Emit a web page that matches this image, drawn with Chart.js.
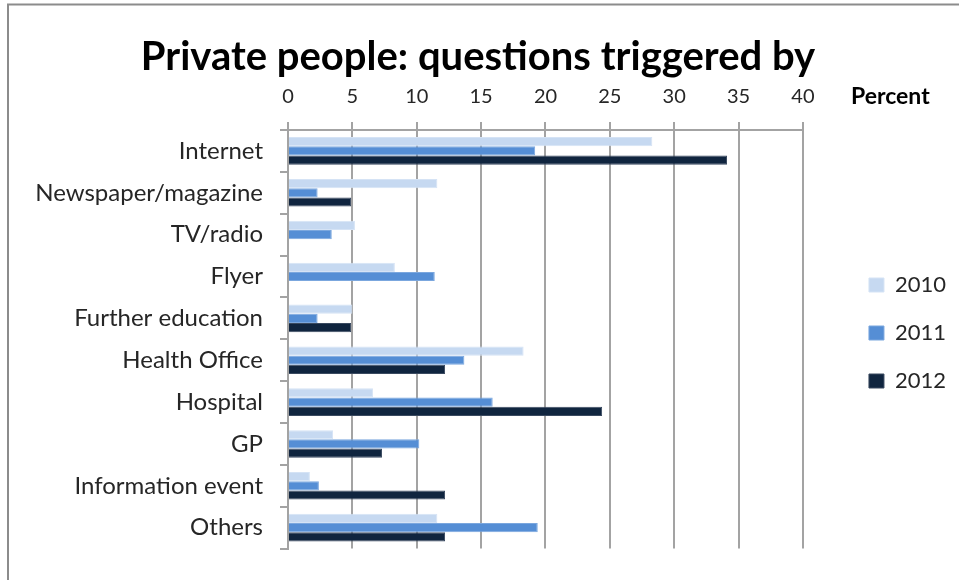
<!DOCTYPE html>
<html>
<head>
<meta charset="utf-8">
<script src="https://cdn.jsdelivr.net/npm/chart.js@4.4.1/dist/chart.umd.min.js"></script>
<style>
  html, body { margin: 0; padding: 0; background: #fff; }
  #wrap { width: 959px; height: 580px; }
</style>
</head>
<body>
<div id="wrap"><canvas id="questionsChart" width="959" height="580"></canvas></div>
<script>
// Data
const categories = [
    'Internet', 'Newspaper/magazine', 'TV/radio', 'Flyer', 'Further education',
    'Health Office', 'Hospital', 'GP', 'Information event', 'Others'
];
const years = ['2010', '2011', '2012'];
const values2010 = [28.3, 11.6, 5.2, 8.3, 5.0, 18.3, 6.6, 3.5, 1.7, 11.6];
const values2011 = [19.2, 2.3, 3.4, 11.4, 2.3, 13.7, 15.9, 10.2, 2.4, 19.4];
const values2012 = [34.1, 4.9, 0, 0, 4.9, 12.2, 24.4, 7.3, 12.2, 12.2];
const xTicks = [0, 5, 10, 15, 20, 25, 30, 35, 40];

const fillColors = ['#C6D9F1', '#558ED5', '#10253F'];
const edgeColors = ['#D5E3F5', '#7BA7DE', '#3A4A60'];
const gridGray = '#A3A3A3';
const textColor = '#262626';
const fontFamily = 'Lato, "Open Sans", sans-serif';

// frame lines (only top and left are visible in the original)
const framePlugin = {
    id: 'frame',
    beforeDraw(chart) {
        const ctx = chart.ctx;
        ctx.save();
        ctx.strokeStyle = '#8C8C8C';
        ctx.lineWidth = 2;
        ctx.beginPath();
        ctx.moveTo(7, 4.5);
        ctx.lineTo(chart.width, 4.5);
        ctx.moveTo(8, 4);
        ctx.lineTo(8, chart.height);
        ctx.stroke();
        ctx.restore();
    }
};

// "Percent" unit label next to the top axis
const unitPlugin = {
    id: 'unitLabel',
    afterDraw(chart) {
        const ctx = chart.ctx;
        const x = chart.scales.x;
        ctx.save();
        ctx.font = 'bold 23px ' + fontFamily;
        ctx.fillStyle = '#000';
        ctx.textAlign = 'left';
        ctx.textBaseline = 'middle';
        ctx.fillText('Percent', chart.chartArea.right + 48, x.bottom - 33);
        ctx.restore();
    }
};

const datasets = [values2010, values2011, values2012].map((vals, i) => ({
    label: years[i],
    data: vals,
    backgroundColor: fillColors[i],
    borderColor: edgeColors[i],
    borderWidth: 1,
    barPercentage: 1.0,
    categoryPercentage: 0.66
}));

new Chart(document.getElementById('questionsChart'), {
    type: 'bar',
    data: { labels: categories, datasets: datasets },
    plugins: [framePlugin, unitPlugin],
    options: {
        indexAxis: 'y',
        responsive: false,
        animation: false,
        layout: { padding: { top: 0, right: 3, bottom: 27, left: 0 } },
        plugins: {
            title: {
                display: true,
                text: 'Private people: questions triggered by',
                color: '#000',
                font: { family: fontFamily, size: 40, weight: 'bold' },
                padding: { top: 33, bottom: 0 }
            },
            legend: {
                position: 'right',
                maxWidth: 114,
                // empty title only pushes the items down to the middle of the plot
                title: { display: true, text: '', font: { size: 10 }, padding: { top: 0, bottom: 101 } },
                labels: {
                    color: textColor,
                    font: { family: fontFamily, size: 22 },
                    boxWidth: 15,
                    boxHeight: 14,
                    padding: 26
                }
            },
            tooltip: { enabled: false }
        },
        scales: {
            x: {
                position: 'top',
                min: 0,
                max: 40,
                afterBuildTicks: (s) => { s.ticks = xTicks.map(v => ({ value: v })); },
                afterFit: (s) => { s.height = 49; },
                ticks: {
                    color: textColor,
                    font: { family: fontFamily, size: 20 },
                    padding: 13
                },
                grid: { color: gridGray, lineWidth: 2, tickLength: 8 },
                border: { color: gridGray, width: 2 }
            },
            y: {
                afterFit: (s) => { s.width = 288; },
                ticks: {
                    color: textColor,
                    font: { family: fontFamily, size: 24 },
                    padding: 17
                },
                grid: { drawOnChartArea: false, color: gridGray, lineWidth: 2, tickLength: 8 },
                border: { color: gridGray, width: 2 }
            },
            // empty spacer between the plot and the legend
            gap: {
                axis: 'y',
                type: 'linear',
                position: 'right',
                afterFit: (s) => { s.width = 40; },
                ticks: { display: false },
                grid: { display: false },
                border: { display: false }
            }
        }
    }
});
</script>
</body>
</html>
